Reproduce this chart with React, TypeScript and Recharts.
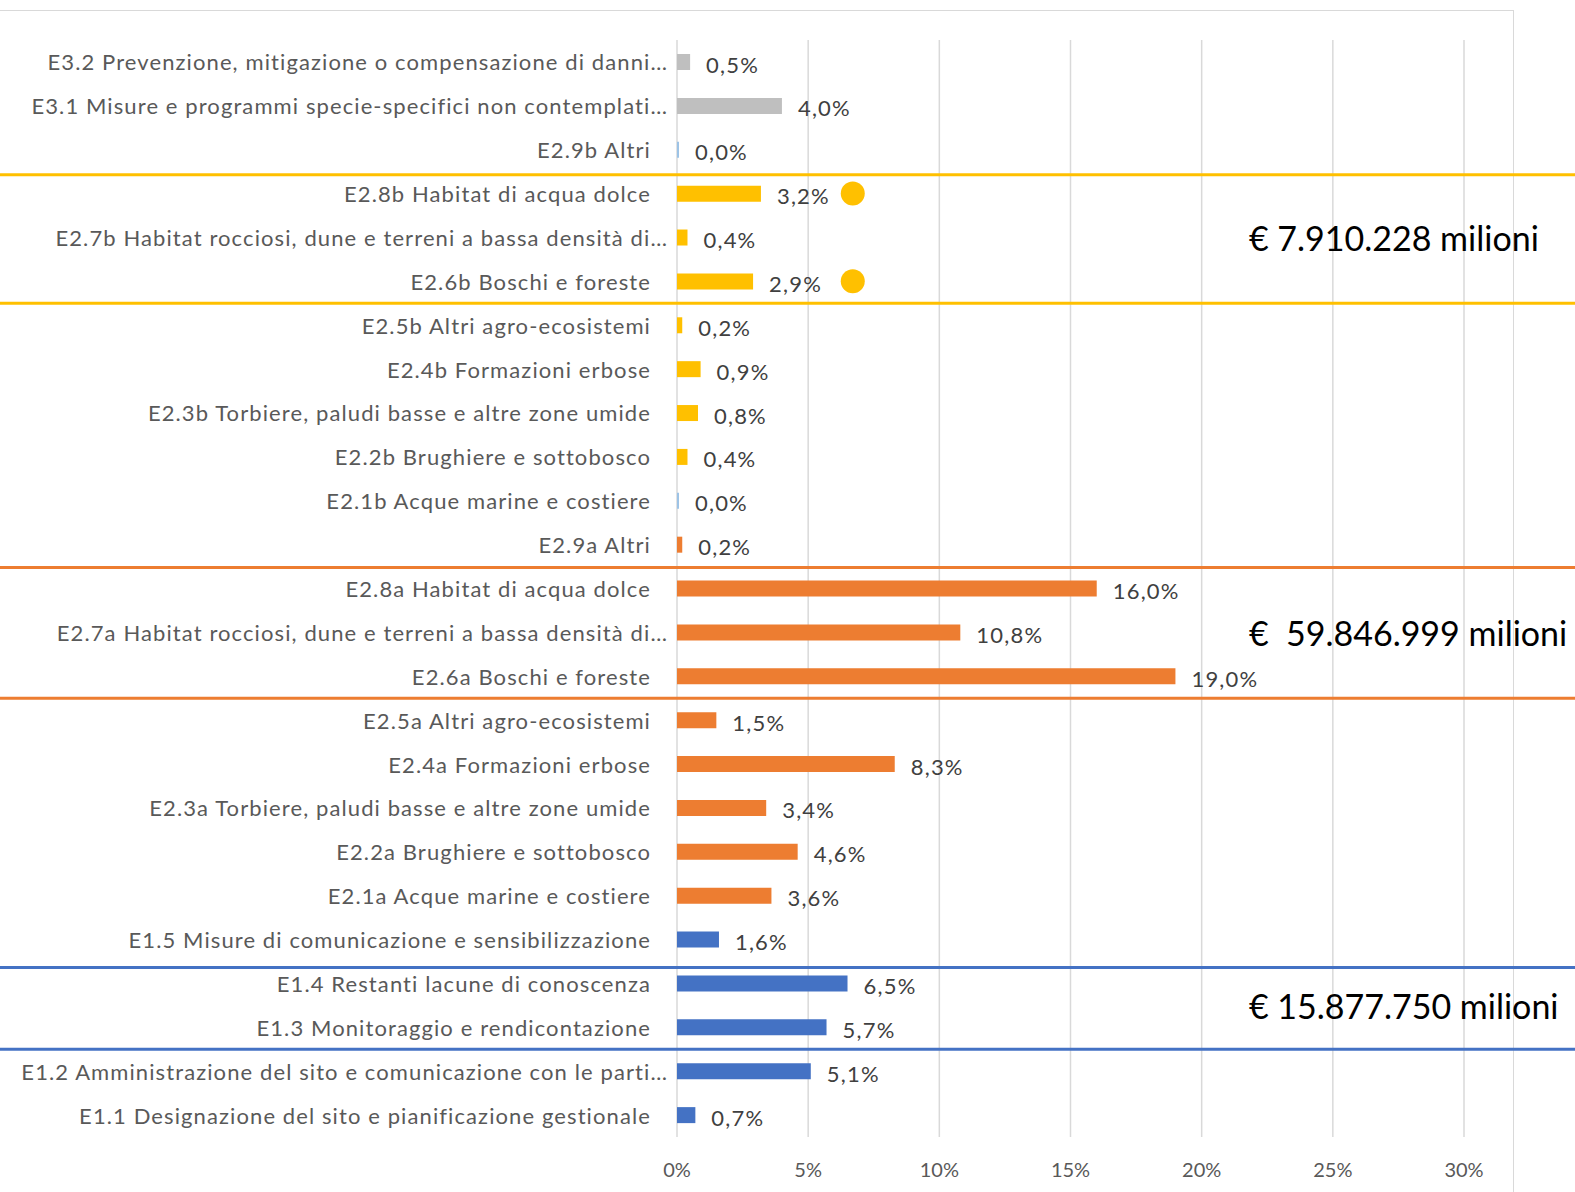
import React from 'react'
import {
  BarChart,
  Bar,
  XAxis,
  YAxis,
  CartesianGrid,
  Cell,
  LabelList,
  ReferenceArea,
  ReferenceDot,
} from 'recharts'

const categories = [
  'E3.2 Prevenzione, mitigazione o compensazione di danni…',
  'E3.1 Misure e programmi specie-specifici non contemplati…',
  'E2.9b Altri',
  'E2.8b Habitat di acqua dolce',
  'E2.7b Habitat rocciosi, dune e terreni a bassa densità di…',
  'E2.6b Boschi e foreste',
  'E2.5b Altri agro-ecosistemi',
  'E2.4b Formazioni erbose',
  'E2.3b Torbiere, paludi basse e altre zone umide',
  'E2.2b Brughiere e sottobosco',
  'E2.1b Acque marine e costiere',
  'E2.9a Altri',
  'E2.8a Habitat di acqua dolce',
  'E2.7a Habitat rocciosi, dune e terreni a bassa densità di…',
  'E2.6a Boschi e foreste',
  'E2.5a Altri agro-ecosistemi',
  'E2.4a Formazioni erbose',
  'E2.3a Torbiere, paludi basse e altre zone umide',
  'E2.2a Brughiere e sottobosco',
  'E2.1a Acque marine e costiere',
  'E1.5 Misure di comunicazione e sensibilizzazione',
  'E1.4 Restanti lacune di conoscenza',
  'E1.3 Monitoraggio e rendicontazione',
  'E1.2 Amministrazione del sito e comunicazione con le parti…',
  'E1.1 Designazione del sito e pianificazione gestionale',
]

const values = [
  0.5, 4.0, 0.0, 3.2, 0.4, 2.9, 0.2, 0.9, 0.8, 0.4, 0.0, 0.2, 16.0, 10.8, 19.0,
  1.5, 8.3, 3.4, 4.6, 3.6, 1.6, 6.5, 5.7, 5.1, 0.7,
]

const GRAY = '#BFBFBF'
const YELLOW = '#FFC000'
const ORANGE = '#ED7D31'
const BLUE = '#4472C4'
const LIGHT_BLUE = '#9DC3E6'

const barColors = [
  GRAY, GRAY, LIGHT_BLUE, YELLOW, YELLOW, YELLOW, YELLOW, YELLOW, YELLOW, YELLOW,
  LIGHT_BLUE, ORANGE, ORANGE, ORANGE, ORANGE, ORANGE, ORANGE, ORANGE, ORANGE, ORANGE,
  BLUE, BLUE, BLUE, BLUE, BLUE,
]

const xTicks = [0, 5, 10, 15, 20, 25, 30]

// highlighted groups: separator lines + total amount
const groupFrom = [categories[3], categories[12], categories[21]]
const groupTo = [categories[5], categories[14], categories[22]]
const groupColors = [YELLOW, ORANGE, BLUE]
const groupTotals = ['€ 7.910.228 milioni', '€\u00A0\u00A059.846.999 milioni', '€ 15.877.750 milioni']
// small nudge of the top separator (px), the original lines are hand placed
const groupTopNudge = [3, 1, 6]
const totalsAtX = 21.8

// yellow dots beside two bars
const dotRows = [categories[3], categories[5]]
const dotX = 6.7

const data = categories.map((name, i) => ({ name, value: values[i] }))

const W = 1575
const H = 1192
const FONT = 'Lato, "Open Sans", sans-serif'

const fmt = (v: number) => v.toFixed(1).replace('.', ',') + '%'

function CategoryTick(props: any) {
  const { x, y, payload } = props
  // truncated labels let the ellipsis hang past the right edge, like Excel
  const hang = String(payload.value).endsWith('…') ? 17 : 0
  return (
    <text
      x={x + hang}
      y={y}
      textAnchor="end"
      dominantBaseline="central"
      fill="#595959"
      fontSize={22}
      letterSpacing={1.1}
      fontFamily={FONT}
    >
      {payload.value}
    </text>
  )
}

function ValueLabel(props: any) {
  const { x, y, width, height, value } = props
  return (
    <text
      x={x + width + 16}
      y={y + height / 2 + 2}
      dominantBaseline="central"
      fill="#404040"
      fontSize={22}
      letterSpacing={1.2}
      fontFamily={FONT}
    >
      {fmt(value)}
    </text>
  )
}

function groupShape(color: string, total: string, nudge: number) {
  return (p: any) => (
    <g>
      <line x1={0} x2={W} y1={p.y + nudge} y2={p.y + nudge} stroke={color} strokeWidth={3} />
      <line x1={0} x2={W} y1={p.y + p.height} y2={p.y + p.height} stroke={color} strokeWidth={3} />
      <text
        x={p.x}
        y={p.y + p.height / 2}
        dominantBaseline="central"
        fill="#000000"
        fontSize={34}
        fontFamily={FONT}
      >
        {total}
      </text>
    </g>
  )
}

export default function App() {
  return (
    <div style={{ position: 'absolute', left: 0, top: 0, width: W, height: H, background: '#fff' }}>
      <div
        style={{
          position: 'absolute',
          left: -2,
          top: 10,
          width: 1514,
          height: H,
          border: '1px solid #D9D9D9',
        }}
      />
      <div style={{ position: 'absolute', left: 0, top: 0 }}>
        <BarChart
          width={W}
          height={H}
          data={data}
          layout="vertical"
          margin={{ top: 40, right: 111, bottom: 5, left: 0 }}
        >
          <CartesianGrid horizontal={false} stroke="#D9D9D9" strokeWidth={1.5} />
          <XAxis
            type="number"
            domain={[0, 30]}
            ticks={xTicks}
            tickFormatter={(v) => `${v}%`}
            axisLine={false}
            tickLine={false}
            tickMargin={20}
            height={50}
            tick={{ fill: '#595959', fontSize: 20, fontFamily: FONT }}
          />
          <YAxis
            type="category"
            dataKey="name"
            width={677}
            axisLine={false}
            tickLine={false}
            tickMargin={20}
            interval={0}
            tick={<CategoryTick />}
          />
          {groupFrom.map((from, i) => (
            <ReferenceArea
              key={from}
              y1={from}
              y2={groupTo[i]}
              x1={totalsAtX}
              ifOverflow="visible"
              shape={groupShape(groupColors[i], groupTotals[i], groupTopNudge[i])}
            />
          ))}
          <Bar dataKey="value" barSize={16} minPointSize={2} isAnimationActive={false}>
            {data.map((d, i) => (
              <Cell key={d.name} fill={barColors[i]} />
            ))}
            <LabelList dataKey="value" content={<ValueLabel />} />
          </Bar>
          {dotRows.map((row) => (
            <ReferenceDot
              key={row}
              x={dotX}
              y={row}
              r={12}
              fill={YELLOW}
              stroke="none"
              ifOverflow="visible"
            />
          ))}
        </BarChart>
      </div>
    </div>
  )
}
